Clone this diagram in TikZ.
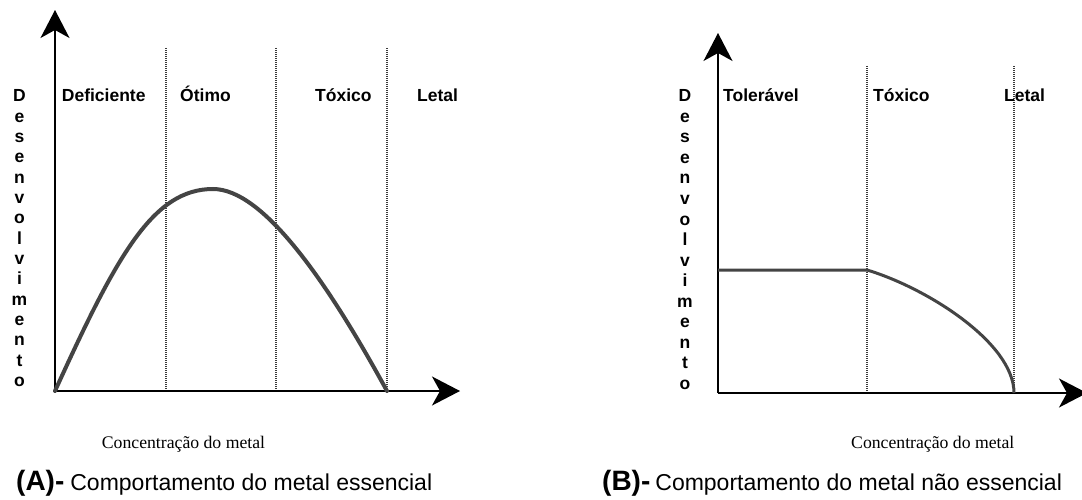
\documentclass[tikz,border=0pt]{standalone}
\usepackage{fontspec}
\setmainfont{Liberation Sans}
\newfontfamily\serifface{Liberation Serif}
\usetikzlibrary{arrows.meta}
\definecolor{curvecol}{HTML}{444444}
\definecolor{dotcol}{HTML}{3A3A3A}
\tikzset{
  axis/.style={line width=1.5pt, black, -{Stealth[length=28pt, width=29pt, inset=8pt]}},
  zone/.style={dotcol, line width=1.2pt, dash pattern=on 1pt off 1pt},
  resp/.style={curvecol, line width=4pt, line cap=round},
  respb/.style={curvecol, line width=3pt},
  zlabel/.style={anchor=base west, inner sep=0pt, font=\bfseries\fontsize{17.5}{20}\selectfont},
  vlet/.style={anchor=base, inner sep=0pt, font=\bfseries\fontsize{17.5}{20}\selectfont},
  xlab/.style={anchor=base west, inner sep=0pt, font=\serifface\fontsize{17.7}{20}\selectfont},
  captext/.style={anchor=base west, inner sep=0pt, font=\fontsize{23}{26}\selectfont}
}
\begin{document}
\begin{tikzpicture}[x=1pt, y=-1pt]
\useasboundingbox (0,0) rectangle (1082,500);
% ---------- Panel A ----------
\coordinate (oA) at (55,391);
\coordinate (yA) at (55,10);
\coordinate (xA) at (460,391);
\foreach \x [count=\i] in {166,276,387} {
  \coordinate (dA\i t) at (\x,48);
  \coordinate (dA\i b) at (\x,391);
  \draw[zone] (dA\i t) -- (dA\i b);
}
\draw[axis] (oA) -- (yA);
\draw[axis] (oA) -- (xA);
\coordinate (pkA) at (213,189);
\coordinate (endA) at (387,391);
\draw[resp] (oA) .. controls (117,255) and (153,189) .. (pkA)
  .. controls (263,189) and (327,281) .. (endA);
\node[zlabel] (defA) at (61.7,101.7) {Deficiente};
\node[zlabel] (otiA) at (180,101.7) {Ótimo};
\node[zlabel] (toxA) at (315,101.7) {Tóxico};
\node[zlabel] (letA) at (417,101.7) {Letal};
\foreach \c [count=\i] in {D,e,s,e,n,v,o,l,v,i,m,e,n,t,o}
  \node[vlet] (vA\i) at (19.5,{101.7+(\i-1)*20.34}) {\c};
\node[xlab] (concA) at (101.7,448) {Concentração do metal};
\node[captext] (capA) at (16,490) {{\bfseries\fontsize{28}{30}\selectfont (A)-}\hspace{6pt}Comportamento do metal essencial};
% ---------- Panel B ----------
\coordinate (oB) at (718,393);
\coordinate (yB) at (718,33);
\coordinate (xB) at (1087,393);
\foreach \x [count=\i] in {867,1014} {
  \coordinate (dB\i t) at (\x,66);
  \coordinate (dB\i b) at (\x,393);
  \draw[zone] (dB\i t) -- (dB\i b);
}
\draw[axis] (oB) -- (yB);
\draw[axis] (oB) -- (xB);
\coordinate (hB0) at (718,270);
\coordinate (hB1) at (867,270);
\coordinate (endB) at (1014,393);
\draw[respb] (hB0) -- (hB1) .. controls (927,288) and (1014,343) .. (endB);
\node[zlabel] (tolB) at (723,101.7) {Tolerável};
\node[zlabel] (toxB) at (873,101.7) {Tóxico};
\node[zlabel] (letB) at (1004,101.7) {Letal};
\foreach \c [count=\i] in {D,e,s,e,n,v,o,l,v,i,m,e,n,t,o}
  \node[vlet] (vB\i) at (685,{101.7+(\i-1)*20.56}) {\c};
\node[xlab] (concB) at (851,448) {Concentração do metal};
\node[captext] (capB) at (602,490) {{\bfseries\fontsize{28}{30}\selectfont (B)-}\hspace{5pt}Comportamento do metal não essencial};
\end{tikzpicture}
\end{document}
